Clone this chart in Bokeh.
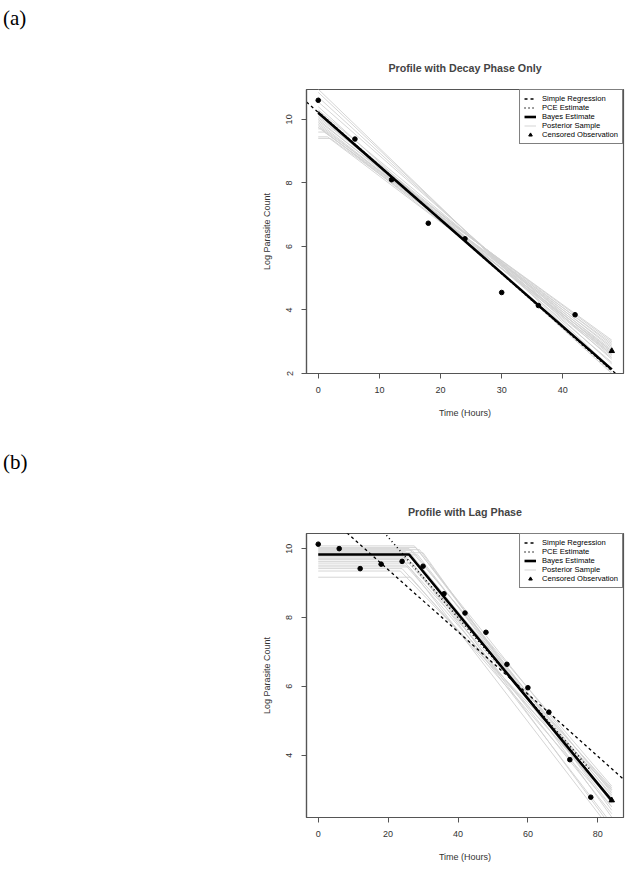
from bokeh.plotting import figure
from bokeh.models import Range1d, FixedTicker, Legend, LegendItem, Div
from bokeh.layouts import column
from bokeh.embed import file_html
from bokeh.resources import INLINE

# ---------------- data: panel (a) ----------------
times_a = [0, 6, 12, 18, 24, 30, 36, 42]
logcount_a = [10.60, 9.38, 8.10, 6.73, 6.24, 4.55, 4.14, 3.85]
censor_time_a = [48]
censor_val_a = [2.71]
simple_a = [10.22, -0.169]          # intercept, slope
pce_a = [10.24, -0.170]             # intercept, slope
bayes_a = [10.21, 0.0, 2.13]        # level, lag, value at end
post_a_level = [10.95, 10.85, 10.70, 10.55, 10.40, 10.30, 10.20, 10.15, 10.10, 10.05,
                10.00, 9.95, 9.90, 9.85, 9.80, 9.75, 9.70, 9.60, 9.45, 9.40]
post_a_lag = [0, 0, 0, 0, 0, 0, 0, 0, 0, 0, 0, 0, 0, 0, 0, 0, 0.5, 1.0, 1.5, 2.0]
post_a_end = [2.05, 2.15, 2.30, 2.45, 2.00, 2.60, 2.35, 2.70, 2.55, 2.80,
              2.50, 2.90, 2.65, 2.75, 3.00, 2.85, 2.60, 3.05, 2.70, 2.95]
xticks_a = [0, 10, 20, 30, 40]
yticks_a = [2, 4, 6, 8, 10]

# ---------------- data: panel (b) ----------------
times_b = [0, 6, 12, 18, 24, 30, 36, 42, 48, 54, 60, 66, 72, 78]
logcount_b = [10.13, 10.00, 9.42, 9.55, 9.63, 9.49, 8.69, 8.13, 7.57, 6.64, 5.96, 5.25, 3.87, 2.78]
censor_time_b = [84]
censor_val_b = [2.69]
simple_b = [11.20, -0.0904]
pce_b = [12.67, -0.1168]
pce_b_end = 78
bayes_b = [9.83, 26.0, 2.68]
post_b_level = [10.08, 10.03, 10.00, 9.97, 9.94, 9.91, 9.88, 9.85, 9.82, 9.79,
                9.76, 9.72, 9.68, 9.63, 9.58, 9.52, 9.47, 9.42, 9.35, 9.17]
post_b_lag = [27.5, 28.0, 26.0, 29.0, 27.0, 25.0, 30.0, 26.5, 28.5, 24.0,
              27.0, 25.5, 26.0, 24.5, 27.0, 25.0, 26.0, 24.0, 23.5, 26.5]
post_b_end = [2.90, 2.60, 3.10, 2.40, 2.80, 3.00, 2.20, 2.70, 2.50, 3.05,
              1.90, 2.85, 2.00, 2.95, 2.30, 2.65, 1.80, 2.75, 3.00, 2.50]
xticks_b = [0, 20, 40, 60, 80]
yticks_b = [4, 6, 8, 10]

FONT = "Liberation Sans"
BOX = "#555555"
TXT = "#333333"


def tag_div(tag, height, pad_top):
    html = ('<div style="font-family: \'Liberation Serif\', serif; font-size: 21px; '
            'line-height: 24px; padding-top: %dpx; padding-left: 3px; color: black;">%s</div>'
            % (pad_top, tag))
    return Div(text=html, width=632, height=height, margin=(0, 0, 0, 0))


def panel(title, times, counts, ctime, cval, simple, pce, pce_end, bayes,
          plevel, plag, pend, tend, xr, yr, xticks, yticks, height, top, bottom):
    p = figure(width=632, height=height, output_backend="svg", toolbar_location=None,
               x_range=Range1d(*xr), y_range=Range1d(*yr),
               min_border_left=306, min_border_right=9,
               min_border_top=top, min_border_bottom=bottom)
    p.xgrid.visible = False
    p.ygrid.visible = False
    p.outline_line_color = BOX
    p.outline_line_width = 1.2
    p.background_fill_color = "white"
    p.border_fill_color = "white"

    p.title.text = title
    p.title.text_font = FONT
    p.title.text_font_size = "10.7px"
    p.title.text_font_style = "bold"
    p.title.align = "center"
    p.title.standoff = 32

    for ax, ticks in ((p.xaxis, xticks), (p.yaxis, yticks)):
        ax.ticker = FixedTicker(ticks=ticks)
        ax.minor_tick_line_color = None
        ax.major_tick_out = 5
        ax.major_tick_in = 0
        ax.major_tick_line_color = BOX
        ax.axis_line_color = BOX
        ax.axis_line_width = 1.2
        ax.major_label_text_font = FONT
        ax.major_label_text_font_size = "9px"
        ax.major_label_text_color = TXT
        ax.axis_label_text_font = FONT
        ax.axis_label_text_font_size = "9px"
        ax.axis_label_text_font_style = "normal"
        ax.axis_label_text_color = TXT
    p.xaxis.major_label_standoff = 8
    p.xaxis.axis_label_standoff = 12
    p.yaxis.major_label_standoff = 9
    p.yaxis.axis_label_standoff = 12
    p.xaxis.axis_label = "Time (Hours)"
    p.yaxis.axis_label = "Log Parasite Count"
    p.yaxis.major_label_orientation = "vertical"

    # posterior samples (lag + decay)
    xs, ys = [], []
    for lv, lg, en in zip(plevel, plag, pend):
        xs.append([0, lg, tend])
        ys.append([lv, lv, en])
    r_post = p.multi_line(xs, ys, line_color="#d0d0d0", line_width=0.9)

    # simple regression across the plotting range
    sx = [xr[0], xr[1]]
    r_simple = p.line(sx, [simple[0] + simple[1] * v for v in sx],
                      line_color="black", line_width=1.3, line_dash="3 3")
    # PCE estimate
    px_ = [0, pce_end]
    r_pce = p.line(px_, [pce[0] + pce[1] * v for v in px_],
                   line_color="black", line_width=1.6, line_dash="1 3")
    # Bayes estimate
    r_bayes = p.line([0, bayes[1], tend], [bayes[0], bayes[0], bayes[2]],
                     line_color="black", line_width=2.6)

    p.scatter(times, counts, marker="circle", size=4.6, fill_color="black", line_color="black")
    r_cens = p.scatter(ctime, cval, marker="triangle", size=5.5,
                       fill_color="black", line_color="black")

    legend = Legend(items=[
        LegendItem(label="Simple Regression", renderers=[r_simple]),
        LegendItem(label="PCE Estimate", renderers=[r_pce]),
        LegendItem(label="Bayes Estimate", renderers=[r_bayes]),
        LegendItem(label="Posterior Sample", renderers=[r_post]),
        LegendItem(label="Censored Observation", renderers=[r_cens]),
    ], location="top_right", margin=0, padding=4, spacing=0,
        glyph_width=12, glyph_height=9, label_height=9, label_standoff=6,
        label_text_font=FONT, label_text_font_size="7.6px", label_text_color="black",
        border_line_color="black", border_line_width=1,
        background_fill_color="white", background_fill_alpha=1.0)
    p.add_layout(legend)
    return p


div_a = tag_div("(a)", 40, 6)
pa = panel("Profile with Decay Phase Only", times_a, logcount_a, censor_time_a,
           censor_val_a, simple_a, pce_a, 48, bayes_a, post_a_level, post_a_lag, post_a_end,
           48, (-1.92, 49.92), (2.0, 10.94), xticks_a, yticks_a, 395, 49, 62)
div_b = tag_div("(b)", 50, 15)
pb = panel("Profile with Lag Phase", times_b, logcount_b, censor_time_b,
           censor_val_b, simple_b, pce_b, pce_b_end, bayes_b, post_b_level, post_b_lag,
           post_b_end, 84, (-3.36, 87.36), (2.19, 10.44), xticks_b, yticks_b, 384, 48, 52)

layout = column(div_a, pa, div_b, pb, spacing=0)
open("out.html", "w").write(file_html(layout, INLINE))
